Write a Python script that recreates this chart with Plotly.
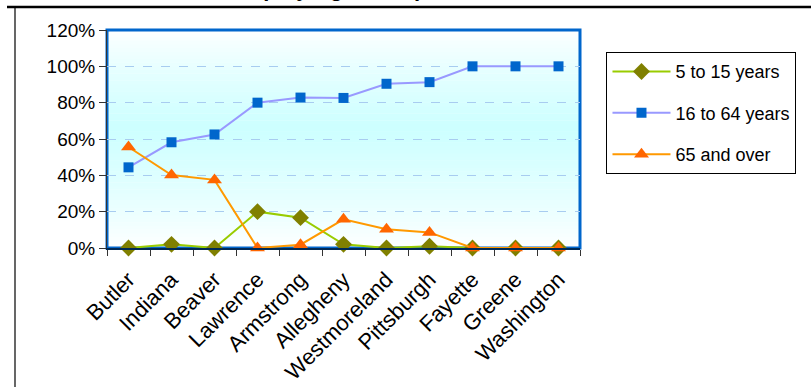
import plotly.graph_objects as go

# ---- data ----
counties = ["Butler", "Indiana", "Beaver", "Lawrence", "Armstrong", "Allegheny",
            "Westmoreland", "Pittsburgh", "Fayette", "Greene", "Washington"]
age_5_15 = [0.0, 0.02, 0.0, 0.20, 0.167, 0.02, 0.0, 0.01, 0.0, 0.0, 0.0]
age_16_64 = [0.444, 0.582, 0.625, 0.80, 0.828, 0.826, 0.904, 0.913, 1.0, 1.0, 1.0]
age_65_over = [0.556, 0.402, 0.375, 0.0, 0.018, 0.158, 0.103, 0.086, 0.0, 0.0, 0.0]
series_names = ["5 to 15 years", "16 to 64 years", "65 and over"]
y_tick_vals = [0, 0.2, 0.4, 0.6, 0.8, 1.0, 1.2]
title_text = "Transit Ridership by Age Group in SPRPC, 1990"

FONT = "Arial, Liberation Sans, sans-serif"

fig = go.Figure()
fig.add_trace(go.Scatter(
    x=counties, y=age_5_15, name=series_names[0], mode="lines+markers",
    legendgroup="a", cliponaxis=False,
    line=dict(color="#99CC00", width=2),
    marker=dict(symbol="diamond", size=13, color="#808000")))
fig.add_trace(go.Scatter(
    x=counties, y=age_16_64, name=series_names[1], mode="lines+markers",
    legendgroup="b", cliponaxis=False,
    line=dict(color="#9999FF", width=2),
    marker=dict(symbol="square", size=10, color="#0066CC")))
fig.add_trace(go.Scatter(
    x=counties, y=age_65_over, name=series_names[2], mode="lines+markers",
    legendgroup="c", cliponaxis=False,
    line=dict(color="#FF9900", width=2),
    marker=dict(symbol="triangle-up", size=13, color="#FF6600")))

# ---- background gradient (white -> light cyan -> white) ----
shapes = []
n = 60
peak = 0.55
for i in range(n):
    t0 = i / n
    t1 = (i + 1) / n
    tm = (t0 + t1) / 2
    if tm <= peak:
        f = tm / peak
    else:
        f = (1 - tm) / (1 - peak)
    f = max(0.0, min(1.0, f)) ** 0.8
    r = round(255 - (255 - 204) * f)
    col = f"rgb({r},255,255)"
    shapes.append(dict(type="rect", xref="paper", yref="paper", x0=0, x1=1,
                       y0=t0, y1=t1 + 0.002, fillcolor=col, line=dict(width=0),
                       layer="below"))
# plot area border
shapes.append(dict(type="rect", xref="paper", yref="paper", x0=0, x1=1, y0=0, y1=1,
                   line=dict(color="#0066CC", width=3), layer="below"))
# page frame lines
shapes.append(dict(type="line", xref="paper", yref="paper",
                   x0=-0.2114, x1=1.6, y0=1.1055, y1=1.1055,
                   line=dict(color="black", width=2.5)))
shapes.append(dict(type="line", xref="paper", yref="paper",
                   x0=-0.1945, x1=-0.1945, y0=1.1078, y1=-0.7,
                   line=dict(color="black", width=1.2)))

fig.update_layout(
    width=811, height=387,
    margin=dict(l=107, r=231, t=30, b=139, pad=0),
    paper_bgcolor="white", plot_bgcolor="white",
    font=dict(family=FONT, size=19, color="black"),
    shapes=shapes,
    showlegend=True,
    legend=dict(x=1.056, y=0.898, xanchor="left", yanchor="top",
                bordercolor="black", borderwidth=1, bgcolor="white",
                font=dict(family=FONT, size=18, color="black"),
                tracegroupgap=15, itemwidth=58, traceorder="grouped"),
    annotations=[dict(text="<b>" + title_text + "</b>", xref="paper", yref="paper",
                      x=(598 - 107) / 473, y=(248 - 3) / 218,
                      xanchor="right", yanchor="bottom", showarrow=False,
                      font=dict(family=FONT, size=22, color="black"))],
)
fig.update_xaxes(
    type="category", range=[-0.5, 10.5], tickangle=-45, automargin=False,
    tickson="boundaries", ticks="outside", ticklen=6, tickcolor="#333333",
    ticklabelstandoff=8,
    showline=True, linecolor="#002a55", linewidth=2, showgrid=False,
    tickfont=dict(family=FONT, size=22, color="black"))
fig.update_yaxes(
    range=[0, 1.2], tickvals=y_tick_vals, tickformat=".0%", automargin=False,
    ticks="outside", ticklen=7, tickcolor="#333333",
    showline=True, linecolor="#333333", linewidth=1,
    showgrid=True, gridcolor="#A8CCF0", griddash="dash", gridwidth=1,
    zeroline=False,
    tickfont=dict(family=FONT, size=19, color="black"))

fig.write_html("out.html",
               config={"displayModeBar": False},
               post_script="document.body.style.margin='0';document.body.style.padding='0';")
